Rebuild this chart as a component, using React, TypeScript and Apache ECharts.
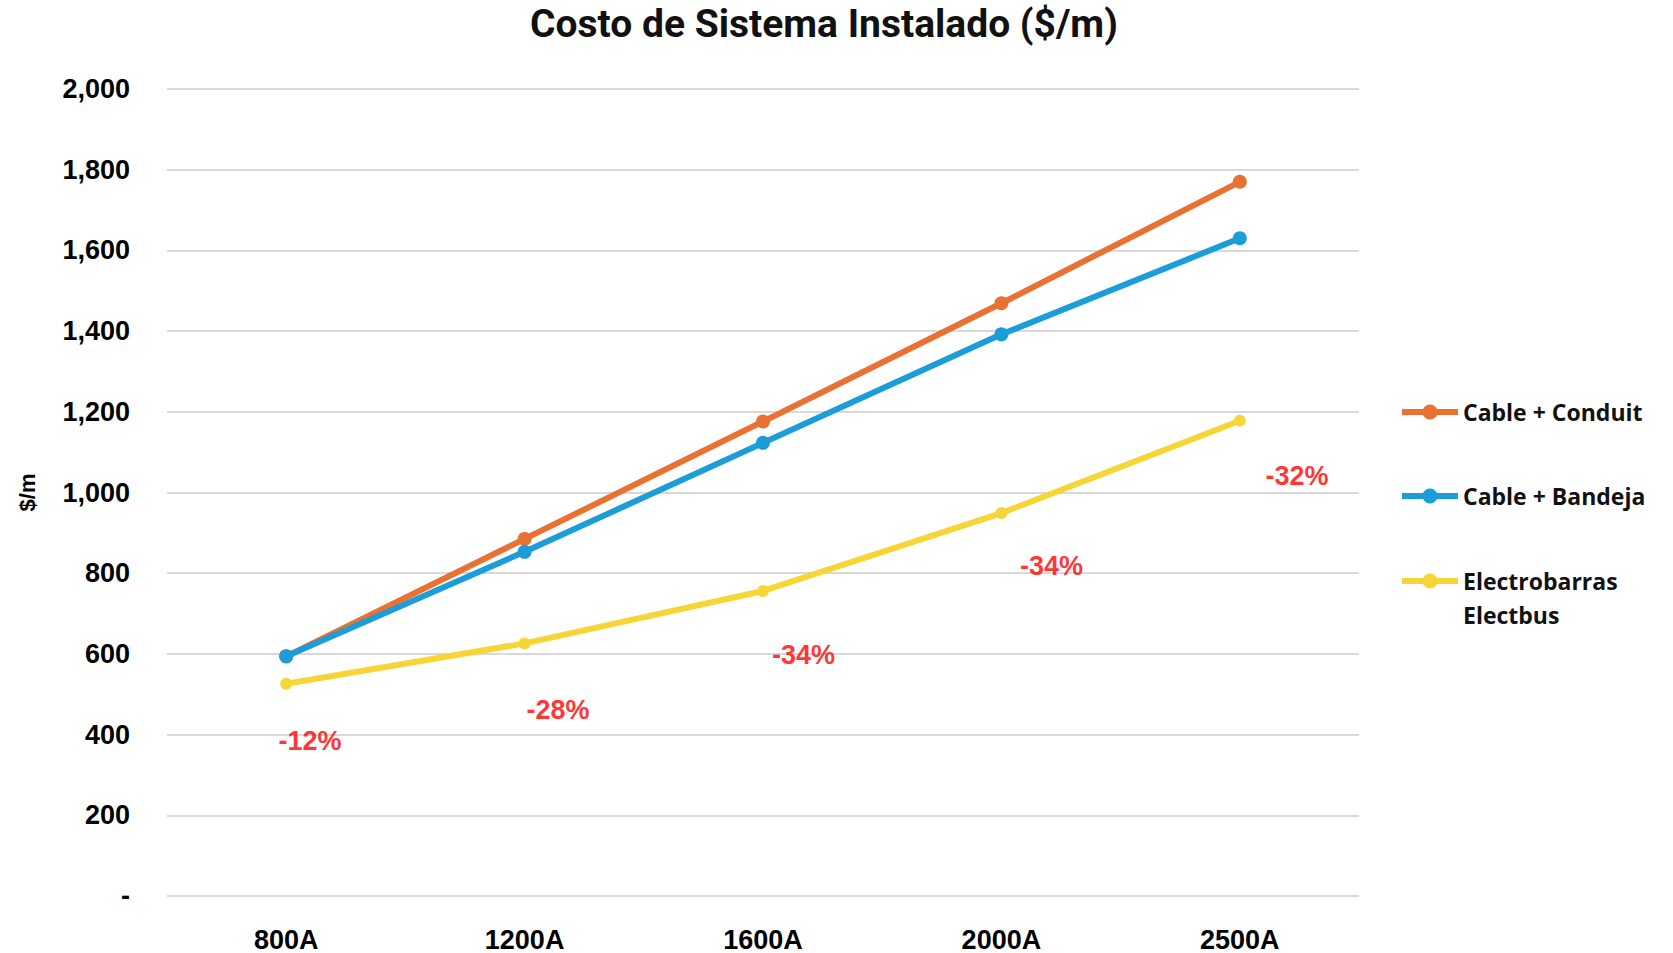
import React, { useEffect, useRef } from "react";
import * as echarts from "echarts";

const categories = ["800A", "1200A", "1600A", "2000A", "2500A"];
const cableConduit = [594, 885, 1176, 1469, 1770];
const cableBandeja = [594, 853, 1123, 1392, 1630];
const electrobarras = [526, 626, 756, 949, 1178];

const pctLabels = ["-12%", "-28%", "-34%", "-34%", "-32%"];
const pctLabelX = [0.1, 1.14, 2.17, 3.21, 4.24];
const pctLabelY = [384, 462, 598, 818, 1041];

const yTicks = { min: 0, max: 2000, interval: 200 };

const ORANGE = "#E97132";
const BLUE = "#1A9DD8";
const YELLOW = "#F6D636";

export default function App() {
  const ref = useRef<HTMLDivElement>(null);
  useEffect(() => {
    if (!ref.current) return;
    const chart = echarts.init(ref.current, null, { renderer: "svg" });
    const axisFont = {
      fontFamily: "Liberation Sans, Arial, sans-serif",
      fontWeight: "bold" as const,
      fontSize: 27,
      color: "#000",
    };
    const legendText = {
      fontFamily: "Open Sans, sans-serif",
      fontWeight: "bold" as const,
      fontSize: 23,
      color: "#111",
      lineHeight: 34,
    };
    const legendBase = {
      orient: "vertical" as const,
      left: 1399,
      padding: 0,
      itemWidth: 56,
      itemHeight: 19,
      textStyle: legendText,
      lineStyle: { width: 6 },
      selectedMode: false,
    };
    chart.setOption({
      animation: false,
      backgroundColor: "#fff",
      title: {
        text: "Costo de Sistema Instalado ($/m)",
        left: 530,
        top: 4,
        padding: 0,
        textStyle: {
          fontFamily: "Roboto, sans-serif",
          fontWeight: "bold",
          fontSize: 39,
          color: "#111",
        },
      },
      legend: [
        { ...legendBase, top: 395, data: ["Cable + Conduit"] },
        { ...legendBase, top: 479, data: ["Cable + Bandeja"] },
        {
          ...legendBase,
          top: 530,
          data: ["Electrobarras Electbus"],
          formatter: (n: string) => "\n" + n.replace(" ", "\n"),
        },
      ],
      grid: { left: 167, right: 314, top: 89, bottom: 57, containLabel: false },
      xAxis: [
        {
          type: "category",
          data: categories,
          boundaryGap: true,
          axisLine: { show: false },
          axisTick: { show: false },
          axisLabel: { ...axisFont, margin: 30 },
        },
        {
          type: "value",
          min: -0.5,
          max: 4.5,
          show: false,
        },
      ],
      yAxis: {
        type: "value",
        min: yTicks.min,
        max: yTicks.max,
        interval: yTicks.interval,
        name: "$/m",
        nameLocation: "middle",
        nameGap: 129,
        nameTextStyle: {
          fontFamily: "Liberation Sans, Arial, sans-serif",
          fontWeight: "bold",
          fontSize: 22,
          color: "#000",
        },
        axisLine: { show: false },
        axisTick: { show: false },
        splitLine: { lineStyle: { color: "#D9D9D9", width: 2 } },
        axisLabel: {
          ...axisFont,
          margin: 37,
          formatter: (v: number) => (v === 0 ? "-" : v.toLocaleString("en-US")),
        },
      },
      series: [
        {
          name: "Cable + Conduit",
          type: "line",
          data: cableConduit,
          symbol: "circle",
          symbolSize: 14,
          lineStyle: { width: 6, color: ORANGE },
          itemStyle: { color: ORANGE },
          z: 3,
        },
        {
          name: "Cable + Bandeja",
          type: "line",
          data: cableBandeja,
          symbol: "circle",
          symbolSize: 14,
          lineStyle: { width: 6, color: BLUE },
          itemStyle: { color: BLUE },
          z: 4,
        },
        {
          name: "Electrobarras Electbus",
          type: "line",
          data: electrobarras,
          symbol: "circle",
          symbolSize: 12,
          lineStyle: { width: 6, color: YELLOW },
          itemStyle: { color: YELLOW },
          z: 2,
        },
        {
          name: "pct",
          type: "scatter",
          xAxisIndex: 1,
          data: pctLabelX.map((x, i) => [x, pctLabelY[i]]),
          symbolSize: 0,
          silent: true,
          label: {
            show: true,
            position: "inside",
            formatter: (p: any) => pctLabels[p.dataIndex],
            fontFamily: "Liberation Sans, Arial, sans-serif",
            fontWeight: "bold",
            fontSize: 27,
            color: "#FF0000",
          },
        },
      ],
    });
    return () => chart.dispose();
  }, []);
  return (
    <div
      ref={ref}
      style={{ position: "fixed", left: 0, top: 0, width: 1673, height: 953 }}
    />
  );
}
